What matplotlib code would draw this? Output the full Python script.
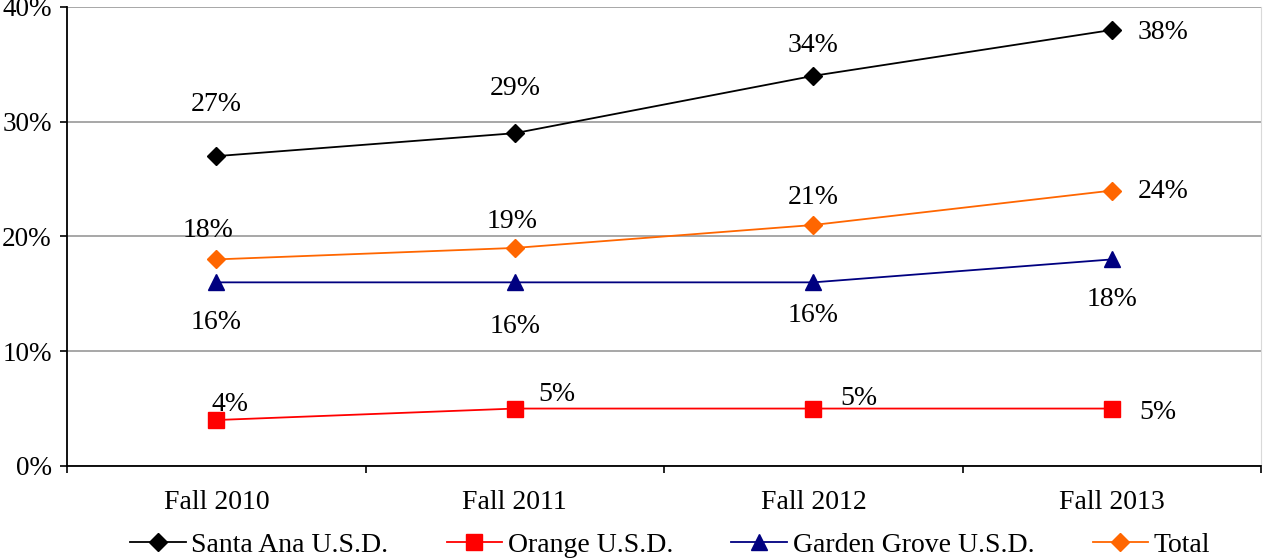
import matplotlib
matplotlib.use("Agg")
import matplotlib.pyplot as plt
from matplotlib.ticker import FixedLocator

plt.rcParams['font.family'] = ['Liberation Serif', 'DejaVu Serif']

terms = ["Fall 2010", "Fall 2011", "Fall 2012", "Fall 2013"]
santa_ana = [27, 29, 34, 38]
orange = [4, 5, 5, 5]
garden_grove = [16, 16, 16, 18]
total = [18, 19, 21, 24]

# label offsets (points) per series, last point is placed to the right
sa_off = [(0, 37), (0, 32), (0, 22), (37, -2)]
tot_off = [(-6, 21), (-2, 19), (0, 20), (37, -1)]
gg_off = [(0, -29), (0, -32), (0, -24), (0, -29)]
or_off = [(10, 11), (30, 10), (33, 7), (33, -3)]

fig = plt.figure(figsize=(12.65, 5.6), dpi=100)
ax = fig.add_axes([0.053, 0.168, 0.944, 0.8195])

x = list(range(len(terms)))
series = [
    ("Santa Ana U.S.D.", santa_ana, "black", "D", 9.5, sa_off),
    ("Orange U.S.D.", orange, "#FF0000", "s", 12, or_off),
    ("Garden Grove U.S.D.", garden_grove, "#000080", "^", 11, gg_off),
    ("Total", total, "#FF6600", "D", 9.5, tot_off),
]
for name, vals, col, mk, ms, offs in series:
    ax.plot(x, vals, color=col, marker=mk, markersize=ms, linewidth=1.3,
            label=name, zorder=3)
    for xi, v, off in zip(x, vals, offs):
        ax.annotate(f"{v}%", (xi, v), xytext=off, textcoords="offset points",
                    ha="center", va="center", fontsize=20)

ax.set_xlim(-0.5, 3.5)
ax.set_ylim(0, 40)
ax.set_yticks([0, 10, 20, 30, 40])
ax.set_yticklabels([f"{t}%" for t in [0, 10, 20, 30, 40]], fontsize=19.5)
ax.yaxis.grid(True, color="#A0A0A0", linewidth=1.3)
ax.set_axisbelow(True)

ax.set_xticks(x)
ax.set_xticklabels(terms, fontsize=20)
ax.xaxis.set_minor_locator(FixedLocator([-0.5, 0.5, 1.5, 2.5, 3.5]))
ax.tick_params(axis="x", which="major", length=0, pad=17)
ax.tick_params(axis="x", which="minor", length=5, width=1.2)
ax.tick_params(axis="y", length=5, width=1.2, pad=6)

ax.spines["top"].set_visible(False)
ax.spines["right"].set_color("#D9D9D9")
ax.spines["left"].set_linewidth(1.3)
ax.spines["bottom"].set_linewidth(1.3)

ax.legend(loc="upper center", bbox_to_anchor=(0.505, -0.108), ncol=4,
          frameon=False, fontsize=20, handlelength=2.0, handletextpad=0.2,
          columnspacing=2.1, borderpad=0.1)

fig.savefig("out.png", dpi=100)
